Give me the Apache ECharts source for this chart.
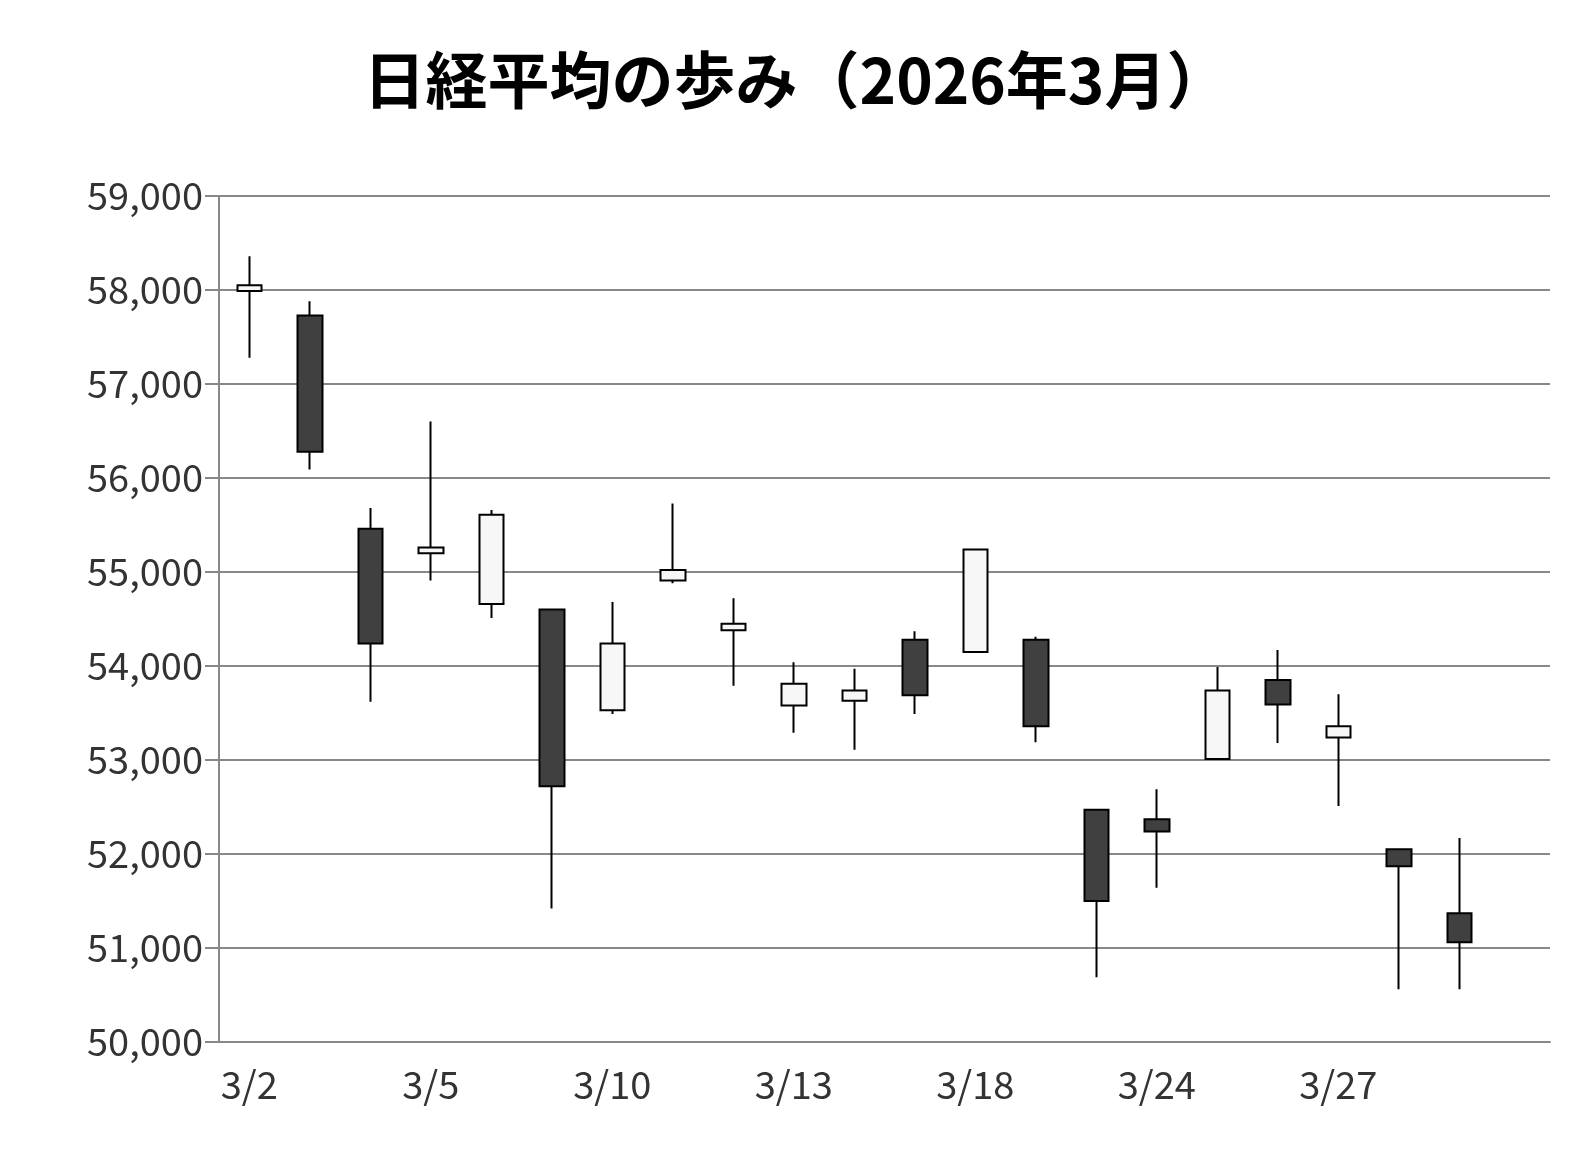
<!DOCTYPE html>
<html><head><meta charset="utf-8">
<script src="https://cdn.jsdelivr.net/npm/echarts@6/dist/echarts.min.js"></script>
<style>html,body{margin:0;background:#fff}#c{width:1592px;height:1152px}</style>
</head><body><div id="c"></div>
<script>
const categories=['3/2','3/3','3/4','3/5','3/6','3/9','3/10','3/11','3/12','3/13','3/16','3/17','3/18','3/19','3/23','3/24','3/25','3/26','3/27','3/30','3/31',''];
// [open, close, low, high]
const ohlc=[
[57990,58050,57280,58360],
[57730,56280,56090,57880],
[55460,54240,53620,55680],
[55200,55260,54910,56600],
[54660,55610,54510,55660],
[54600,52720,51420,54600],
[53530,54240,53490,54680],
[54910,55020,54880,55730],
[54380,54450,53790,54720],
[53580,53810,53290,54040],
[53630,53740,53110,53970],
[54280,53690,53490,54370],
[54150,55240,54150,55240],
[54280,53360,53190,54310],
[52470,51500,50690,52470],
[52370,52240,51640,52690],
[53010,53740,53010,53990],
[53850,53590,53180,54170],
[53240,53360,52510,53700],
[52050,51870,50560,52050],
[51370,51060,50560,52170]
];
const yTicks={min:50000,max:59000,interval:1000};
const chart=echarts.init(document.getElementById('c'));
const font='"Noto Sans CJK JP","Noto Sans",sans-serif';
chart.setOption({
animation:false,
title:{text:'日経平均の歩み（2026年3月）',left:'center',top:44,textStyle:{fontFamily:font,fontSize:62,fontWeight:'bold',color:'#000'}},
grid:{left:219,right:42,top:196,bottom:110},
xAxis:{type:'category',data:categories,boundaryGap:true,
 axisLine:{lineStyle:{color:'#888',width:2}},
 axisTick:{interval:0,length:12,lineStyle:{color:'#888',width:2}},
 axisLabel:{interval:2,margin:24,fontFamily:font,fontSize:38,color:'#333'}},
yAxis:{type:'value',min:yTicks.min,max:yTicks.max,interval:yTicks.interval,
 axisLine:{show:true,lineStyle:{color:'#888',width:2}},
 axisTick:{show:true,length:14,lineStyle:{color:'#888',width:2}},
 splitLine:{lineStyle:{color:'#888',width:2}},
 axisLabel:{margin:16,fontFamily:font,fontSize:38,color:'#333',formatter:v=>v.toLocaleString('en-US')}},
series:[{type:'candlestick',data:ohlc,barWidth:25,
 itemStyle:{color:'#f7f7f7',color0:'#404040',borderColor:'#000',borderColor0:'#000',borderWidth:2}}]
});
</script></body></html>
